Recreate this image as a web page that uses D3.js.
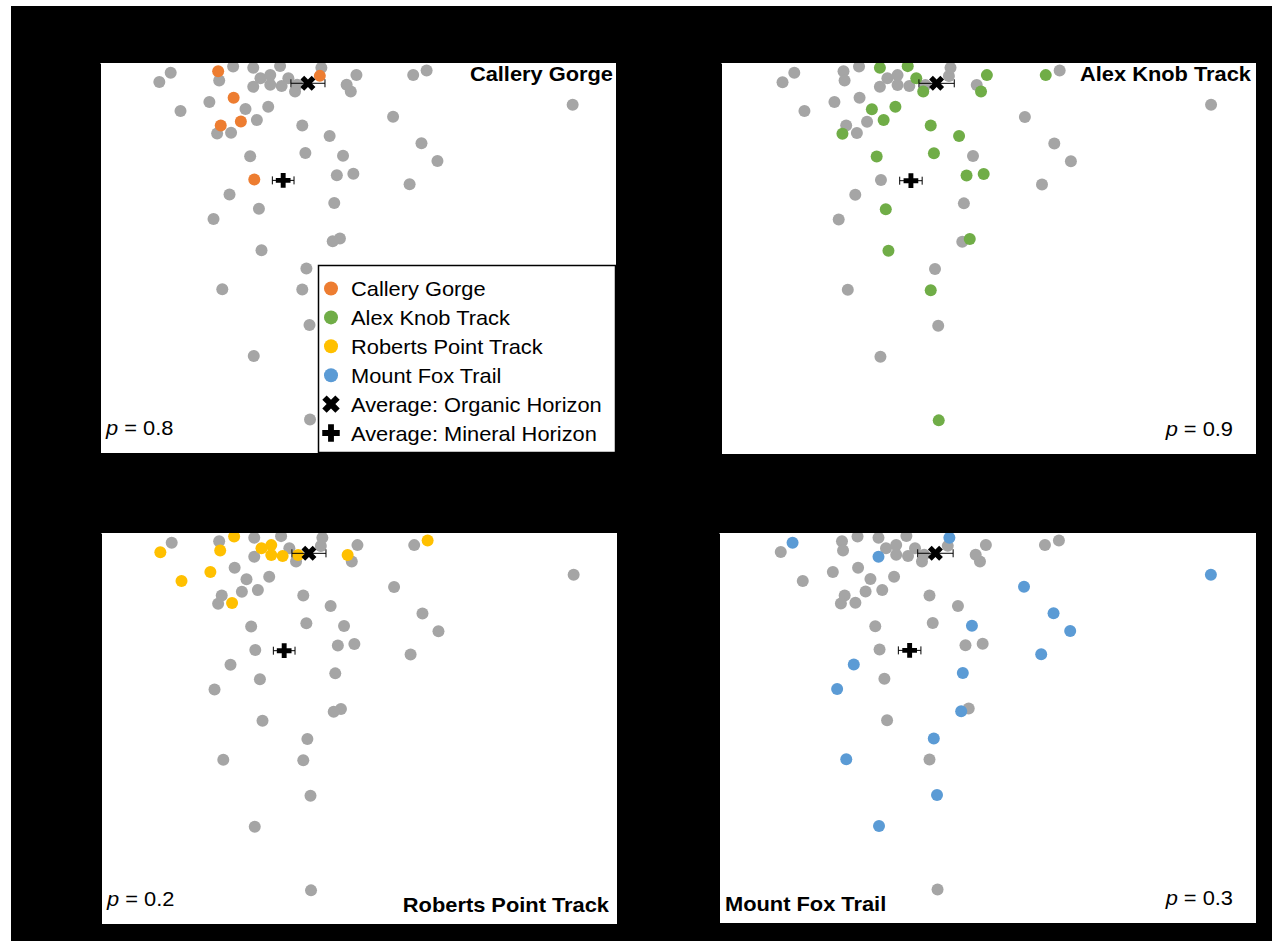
<!DOCTYPE html>
<html>
<head>
<meta charset="utf-8">
<script src="https://cdn.jsdelivr.net/npm/d3@7"></script>
<style>
  body { margin: 0; background: #fff; }
  text { font-family: "Liberation Sans", Arial, sans-serif; }
</style>
</head>
<body>
<svg id="chart"></svg>
<script>
const width = 1272;
const height = 941;

// sites and their samples (axis units 0-100)
const sites = ["Callery Gorge", "Alex Knob Track", "Roberts Point Track", "Mount Fox Trail"];
const pValues = ["0.8", "0.9", "0.2", "0.3"];

const calleryX = [22.9, 25.9, 27.3, 23.4, 29.9, 42.6];
const calleryY = [97.9, 91.1, 85.0, 84.0, 70.1, 96.7];

const alexX = [29.7, 34.9, 36.5, 37.8, 49.7, 48.6, 60.7, 28.2, 32.6, 30.4, 22.7,
               39.2, 44.5, 29.1, 39.8, 45.9, 49.1, 30.8, 31.3, 46.5, 39.2, 40.7];
const alexY = [98.8, 99.2, 96.1, 92.7, 96.9, 92.7, 96.9, 88.2, 88.8, 85.4, 81.9,
               84.0, 81.3, 76.1, 76.9, 71.2, 71.6, 62.6, 52.0, 55.0, 41.9, 8.6];

const robertsX = [25.8, 11.5, 23.1, 31.1, 33.0, 33.0, 35.2, 38.2, 47.8, 63.3, 21.2, 15.6, 25.4];
const robertsY = [99.1, 95.1, 95.5, 96.1, 96.9, 94.4, 94.1, 94.4, 94.4, 98.1, 90.0, 87.7, 82.1];

const foxX = [13.7, 42.9, 29.7, 91.6, 56.8, 62.3, 65.4, 47.1, 60.0, 25.1, 45.4,
              22.0, 45.1, 40.0, 23.7, 40.6, 29.8];
const foxY = [97.5, 98.8, 93.9, 89.3, 86.2, 79.4, 74.9, 76.2, 68.9, 66.3, 64.1,
              60.0, 54.3, 47.3, 42.0, 32.8, 24.9];

// averages with horizontal error
const organicAvg = [40.3, 94.8, 3.3];
const mineralAvg = [35.5, 69.9, 2.1];

const legendLabels = ["Callery Gorge", "Alex Knob Track", "Roberts Point Track", "Mount Fox Trail",
                      "Average: Organic Horizon", "Average: Mineral Horizon"];

const siteColors = ["#ED7D31", "#70AD47", "#FFC000", "#5B9BD5"];
const otherColor = "#A5A5A5";

const samples = [];
[[calleryX, calleryY], [alexX, alexY], [robertsX, robertsY], [foxX, foxY]].forEach(function(s, i) {
  s[0].forEach(function(v, j) { samples.push({site: i, x: v, y: s[1][j]}); });
});

const svg = d3.select("svg#chart").attr("width", width).attr("height", height);

svg.append("rect")
  .attr("x", 11).attr("y", 6)
  .attr("width", width - 11).attr("height", height - 6)
  .attr("fill", "#000");

// text in the original is a little wider than Liberation Sans
const stretch = function(x, y) { return "translate(" + x + "," + y + ") scale(1.04,1)"; };

//panel boxes: title / p label corners
const panels = [
  {x: 100, y: 63, w: 516, h: 390, title: "tr", p: "bl"},
  {x: 721, y: 63, w: 535, h: 391, title: "tr", p: "br"},
  {x: 101, y: 533, w: 516, h: 391, title: "br", p: "bl"},
  {x: 719, y: 533, w: 537, h: 390, title: "bl", p: "br"}
];

const markX = d3.symbol().type(d3.symbolCross);

panels.forEach(function(p, i) {
  const x = d3.scaleLinear().domain([0, 100]).range([p.x, p.x + p.w]);
  const y = d3.scaleLinear().domain([0, 100]).range([p.y + p.h, p.y]);

  const g = svg.append("g").attr("class", "panel");
  g.append("rect")
    .attr("x", p.x).attr("y", p.y).attr("width", p.w).attr("height", p.h)
    .attr("fill", "#fff");

  svg.append("clipPath").attr("id", "clip" + i)
    .append("rect").attr("x", p.x).attr("y", p.y).attr("width", p.w).attr("height", p.h);

  const plot = g.append("g").attr("clip-path", "url(#clip" + i + ")");

  const ordered = samples.filter(d => d.site != i).concat(samples.filter(d => d.site == i));
  plot.selectAll("circle")
    .data(ordered)
    .enter()
    .append("circle")
      .attr("cx", d => x(d.x))
      .attr("cy", d => y(d.y))
      .attr("r", 6)
      .attr("fill", d => d.site == i ? siteColors[i] : otherColor);

  // averages + error bars
  [organicAvg, mineralAvg].forEach(function(a, k) {
    const eb = plot.append("g").attr("stroke", "#000").attr("stroke-width", 1);
    eb.append("line").attr("x1", x(a[0] - a[2])).attr("x2", x(a[0] + a[2]))
      .attr("y1", y(a[1])).attr("y2", y(a[1]));
    [a[0] - a[2], a[0] + a[2]].forEach(function(e) {
      eb.append("line").attr("x1", x(e)).attr("x2", x(e))
        .attr("y1", y(a[1]) - 4).attr("y2", y(a[1]) + 4);
    });
    plot.append("path")
      .attr("d", markX.size(k == 0 ? 140 : 120)())
      .attr("transform", "translate(" + x(a[0]) + "," + y(a[1]) + ") rotate(" + (k == 0 ? 45 : 0) + ")")
      .attr("fill", "#000");
  });

  // axes (black on black, as in the original)
  g.append("g")
    .attr("transform", "translate(" + p.x + ",0)")
    .call(d3.axisLeft(y).tickSize(0).tickFormat(""));
  g.append("g")
    .attr("transform", "translate(0," + (p.y + p.h) + ")")
    .call(d3.axisBottom(x).tickSize(0).tickFormat(""));

  // site title
  const tRight = p.title[1] == "r";
  g.append("text")
    .attr("transform", stretch(tRight ? p.x + p.w - (i == 0 ? 3 : i == 1 ? 5 : 8) : p.x + 6,
                               p.title[0] == "t" ? p.y + 18 : p.y + p.h - 12))
    .attr("text-anchor", tRight ? "end" : "start")
    .style("font-size", "21px")
    .style("font-weight", "bold")
    .text(sites[i]);

  const pRight = p.p[1] == "r";
  const pt = g.append("text")
    .attr("transform", stretch(pRight ? p.x + p.w - 23 : p.x + 6, p.y + p.h - 18))
    .attr("text-anchor", pRight ? "end" : "start")
    .style("font-size", "21px");
  pt.append("tspan").style("font-style", "italic").text("p");
  pt.append("tspan").text(" = " + pValues[i]);
});

// legend in first panel
const lg = svg.append("g").attr("id", "legend");
lg.append("rect")
  .attr("x", 318.5).attr("y", 265.5).attr("width", 297).attr("height", 187)
  .attr("fill", "#fff").attr("stroke", "#000").attr("stroke-width", 1.5);

const rowY = d3.scaleLinear().domain([0, 5]).range([288.5, 433]);
const rows = lg.selectAll("g.row")
  .data(legendLabels)
  .enter()
  .append("g")
    .attr("class", "row")
    .attr("transform", (d, k) => "translate(331," + rowY(k) + ")");

rows.each(function(d, k) {
  const r = d3.select(this);
  if (k < 4) {
    r.append("circle").attr("r", 7).attr("fill", siteColors[k]);
  } else {
    r.append("path")
      .attr("d", markX.size(k == 4 ? 190 : 170)())
      .attr("transform", "rotate(" + (k == 4 ? 45 : 0) + ")")
      .attr("fill", "#000");
  }
});
rows.append("text")
  .attr("transform", stretch(20, 7.5))
  .style("font-size", "21px")
  .text(d => d);
</script>
</body>
</html>
